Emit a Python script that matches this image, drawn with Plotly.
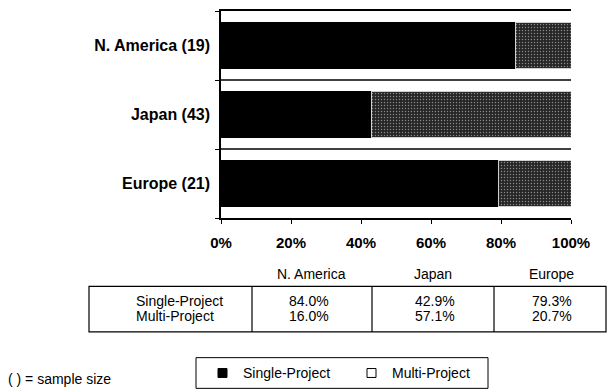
import plotly.graph_objects as go

# Share of projects by management style, per region
regions = ["N. America", "Japan", "Europe"]
sample_sizes = [19, 43, 21]
single_project = [84.0, 42.9, 79.3]
multi_project = [16.0, 57.1, 20.7]
x_ticks = [0, 20, 40, 60, 80, 100]
row_labels = ["Single-Project", "Multi-Project"]

W, H = 609, 392
ML, MR, MT, MB = 221, 38, 9, 174
PW, PH = W - ML - MR, H - MT - MB
FONT = "Liberation Sans, Arial, sans-serif"


def px(x):
    return (x - ML) / PW


def py(y):
    return (H - MB - y) / PH


ypos = list(range(len(regions)))
cat_labels = [f"{r} ({n})" for r, n in zip(regions, sample_sizes)]

fig = go.Figure()
fig.add_trace(go.Bar(
    y=ypos, x=single_project, orientation="h", name="Single-Project",
    marker=dict(color="#000000", line=dict(width=0)),
))
fig.add_trace(go.Bar(
    y=ypos, x=multi_project, orientation="h", name="Multi-Project",
    marker=dict(
        color="#2c2c2c",
        line=dict(color="#d0d0d0", width=1),
        pattern=dict(shape=".", fgcolor="#8a8a8a", bgcolor="#262626",
                     size=3, solidity=0.18, fillmode="replace"),
    ),
))

shapes = []
# separators between region bands
for b in [0.5, 1.5]:
    shapes.append(dict(type="line", xref="x", yref="y", x0=0, x1=100, y0=b, y1=b,
                       line=dict(color="#000", width=1.5)))

# summary table
tbl_l, tbl_r, tbl_t, tbl_b = 89, 606, 287, 333
col_edges = [252, 372, 494]
shapes.append(dict(type="rect", xref="paper", yref="paper",
                   x0=px(tbl_l), x1=px(tbl_r), y0=py(tbl_b), y1=py(tbl_t),
                   line=dict(color="#000", width=1.2)))
for cx in col_edges:
    shapes.append(dict(type="line", xref="paper", yref="paper",
                       x0=px(cx), x1=px(cx), y0=py(tbl_b), y1=py(tbl_t),
                       line=dict(color="#000", width=1.2)))

# legend box
leg_l, leg_r, leg_t, leg_b = 196, 488, 359, 390
shapes.append(dict(type="rect", xref="paper", yref="paper",
                   x0=px(leg_l), x1=px(leg_r), y0=py(leg_b), y1=py(leg_t),
                   line=dict(color="#000", width=1)))
shapes.append(dict(type="rect", xref="paper", yref="paper",
                   x0=px(218), x1=px(227), y0=py(379), y1=py(370),
                   fillcolor="#000", line=dict(color="#000", width=1)))
shapes.append(dict(type="rect", xref="paper", yref="paper",
                   x0=px(367), x1=px(376), y0=py(379), y1=py(370),
                   fillcolor="#fff", line=dict(color="#000", width=1)))

annotations = []
small = dict(family=FONT, size=14, color="#000")
header_x = [311, 433, 551]
value_x = [309, 435, 552]
for name, hx in zip(regions, header_x):
    annotations.append(dict(x=px(hx), y=py(275), xref="paper", yref="paper", text=name,
                            showarrow=False, font=small, xanchor="center", yanchor="middle"))
for lbl, yy in zip(row_labels, [302, 317]):
    annotations.append(dict(x=px(134), y=py(yy), xref="paper", yref="paper", text=lbl,
                            showarrow=False, font=small, xanchor="left", yanchor="middle"))
for s, m, vx in zip(single_project, multi_project, value_x):
    annotations.append(dict(x=px(vx), y=py(302), xref="paper", yref="paper", text=f"{s:.1f}%",
                            showarrow=False, font=small, xanchor="center", yanchor="middle"))
    annotations.append(dict(x=px(vx), y=py(317), xref="paper", yref="paper", text=f"{m:.1f}%",
                            showarrow=False, font=small, xanchor="center", yanchor="middle"))
annotations.append(dict(x=px(241), y=py(375), xref="paper", yref="paper", text="Single-Project",
                        showarrow=False, font=small, xanchor="left", yanchor="middle"))
annotations.append(dict(x=px(390), y=py(375), xref="paper", yref="paper", text="Multi-Project",
                        showarrow=False, font=small, xanchor="left", yanchor="middle"))
annotations.append(dict(x=px(6), y=py(381), xref="paper", yref="paper", text="( ) = sample size",
                        showarrow=False, font=small, xanchor="left", yanchor="middle"))

fig.update_layout(
    width=W, height=H,
    margin=dict(l=ML, r=MR, t=MT, b=MB),
    paper_bgcolor="#fff", plot_bgcolor="#fff",
    barmode="stack", bargap=0.32,
    showlegend=False,
    shapes=shapes, annotations=annotations,
    font=dict(family=FONT, color="#000"),
)
fig.update_xaxes(
    range=[0, 100], tickvals=x_ticks, ticktext=[f"{t}%" for t in x_ticks],
    showgrid=False, zeroline=False, showline=True, mirror=True,
    linecolor="#000", linewidth=1.5, ticks="outside", ticklen=4, tickcolor="#000",
    ticklabelstandoff=6,
    tickfont=dict(family=FONT, size=15, color="#000", weight="bold"),
)
fig.update_yaxes(
    range=[2.5, -0.5], tickvals=ypos, ticktext=cat_labels,
    showgrid=False, zeroline=False, showline=True, mirror=False,
    linecolor="#000", linewidth=1.5, ticks="", ticklabelstandoff=6,
    tickfont=dict(family=FONT, size=16, color="#000", weight="bold"),
    minor=dict(tickvals=[-0.5, 0.5, 1.5, 2.5], ticks="outside", ticklen=4, tickcolor="#000"),
)

fig.write_html("out.html")
